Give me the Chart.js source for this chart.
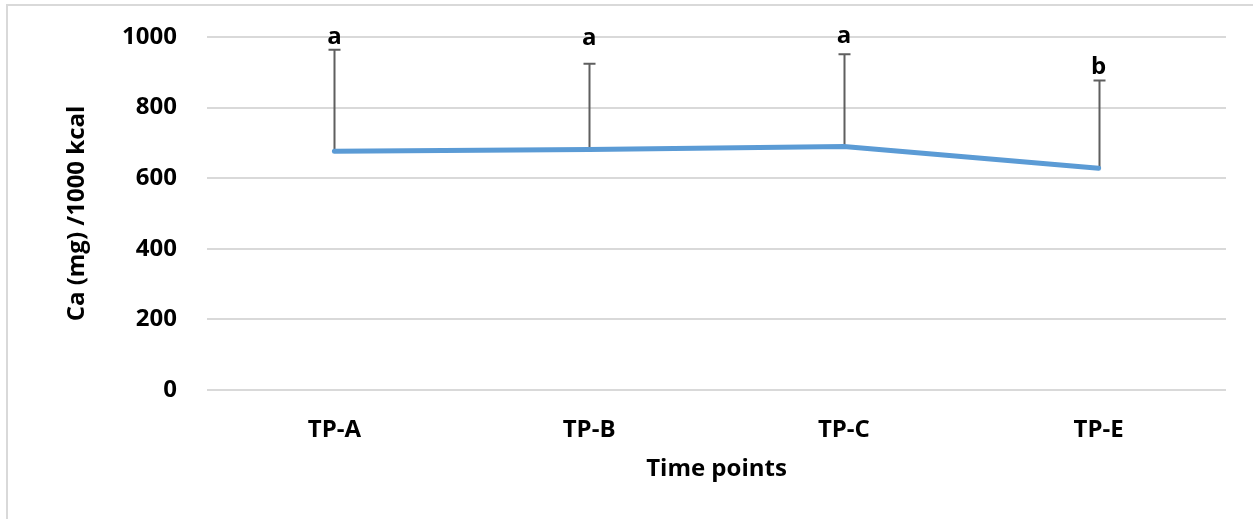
<!DOCTYPE html>
<html>
<head>
<meta charset="utf-8">
<script src="https://cdn.jsdelivr.net/npm/chart.js@4/dist/chart.umd.min.js"></script>
<style>
  html, body { margin: 0; padding: 0; background: #ffffff; }
  #wrap { position: relative; width: 1253px; height: 519px; }
</style>
</head>
<body>
<div id="wrap"><canvas id="c" width="1253" height="519"></canvas></div>
<script>
const categories = ['TP-A', 'TP-B', 'TP-C', 'TP-E'];
const meanValues = [676, 681, 690, 628];
const errorUp = [288, 243, 261, 249];
const letters = ['a', 'a', 'a', 'b'];
const yTicks = [0, 200, 400, 600, 800, 1000];

const FONT = '"Open Sans", "Liberation Sans", sans-serif';

const framePlugin = {
  id: 'frame',
  beforeDraw(chart) {
    const ctx = chart.ctx;
    ctx.save();
    ctx.strokeStyle = '#d9d9d9';
    ctx.lineWidth = 2;
    ctx.beginPath();
    ctx.moveTo(7, 519);
    ctx.lineTo(7, 5);
    ctx.lineTo(1253, 5);
    ctx.stroke();
    ctx.restore();
  }
};

const errorPlugin = {
  id: 'errbars',
  beforeDatasetsDraw(chart) {
    const ctx = chart.ctx;
    const meta = chart.getDatasetMeta(0);
    const y = chart.scales.y;
    ctx.save();
    ctx.strokeStyle = '#5f5f5f';
    ctx.lineWidth = 2;
    meta.data.forEach((pt, i) => {
      const x = Math.round(pt.x) + 0.5;
      const yTop = y.getPixelForValue(meanValues[i] + errorUp[i]);
      ctx.beginPath();
      ctx.moveTo(x, pt.y);
      ctx.lineTo(x, yTop);
      ctx.moveTo(x - 6, yTop);
      ctx.lineTo(x + 6, yTop);
      ctx.stroke();
    });
    ctx.restore();
  },
  afterDatasetsDraw(chart, args, opts) {
    const ctx = chart.ctx;
    const meta = chart.getDatasetMeta(0);
    const y = chart.scales.y;
    ctx.save();
    ctx.fillStyle = '#000000';
    ctx.font = 'bold 24px ' + FONT;
    ctx.textAlign = 'center';
    ctx.textBaseline = 'alphabetic';
    meta.data.forEach((pt, i) => {
      ctx.fillText(letters[i], pt.x, y.getPixelForValue(opts.anchors[i]));
    });
    ctx.restore();
  }
};

new Chart(document.getElementById('c'), {
  type: 'line',
  data: {
    labels: categories,
    datasets: [{
      data: meanValues,
      borderColor: '#5b9bd5',
      borderWidth: 5,
      borderCapStyle: 'round',
      borderJoinStyle: 'round',
      pointRadius: 0,
      pointHoverRadius: 0,
      tension: 0,
      fill: false
    }]
  },
  options: {
    responsive: false,
    animation: false,
    events: [],
    layout: { padding: { top: 37, right: 27, bottom: 0, left: 0 } },
    plugins: {
      legend: { display: false },
      tooltip: { enabled: false },
      errbars: { anchors: [981, 978, 982, 896] }
    },
    scales: {
      x: {
        offset: true,
        grid: { display: false, drawTicks: false },
        border: { display: false },
        ticks: {
          padding: 26,
          color: '#000000',
          font: { family: FONT, size: 24, weight: 'bold' },
          maxRotation: 0
        },
        title: {
          display: true,
          text: 'Time points',
          color: '#000000',
          font: { family: FONT, size: 24, weight: 'bold' },
          padding: { top: 0, bottom: 35 }
        },
        afterFit(scale) { scale.height = 129; }
      },
      y: {
        min: 0,
        max: 1000,
        afterBuildTicks(scale) { scale.ticks = yTicks.map(v => ({ value: v })); },
        grid: { color: '#d9d9d9', lineWidth: 2, drawTicks: false },
        border: { display: false },
        ticks: {
          padding: 30,
          color: '#000000',
          font: { family: FONT, size: 24, weight: 'bold' },
          callback: (v) => String(v)
        },
        title: {
          display: true,
          text: 'Ca (mg) /1000 kcal',
          color: '#000000',
          font: { family: FONT, size: 24, weight: 'bold' },
          padding: { top: 63, bottom: 0 }
        },
        afterFit(scale) { scale.width = 207; scale.paddingTop = 0; }
      }
    }
  },
  plugins: [framePlugin, errorPlugin]
});
</script>
</body>
</html>
